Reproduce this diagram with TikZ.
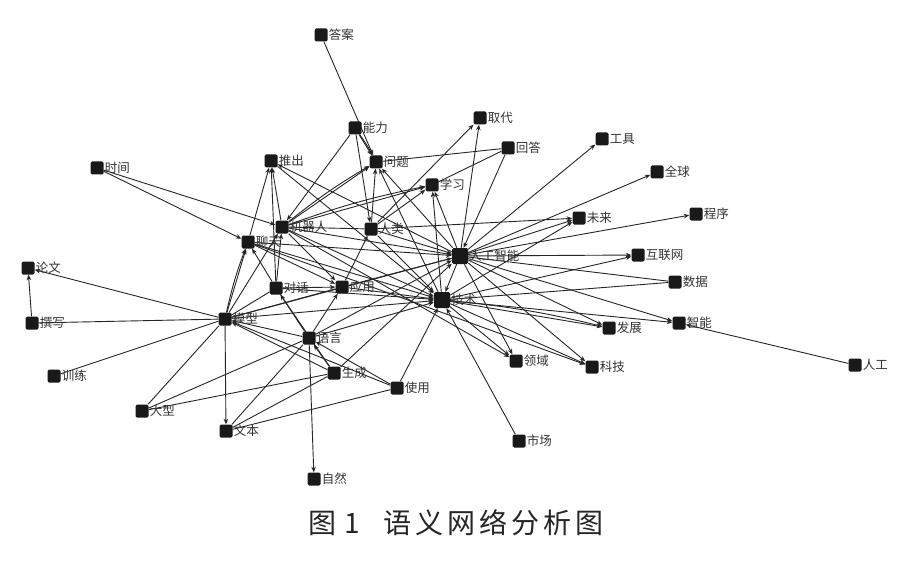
\documentclass[tikz,border=0pt]{standalone}
\usepackage{fontspec}
\setmainfont{Noto Sans CJK SC}
\newfontfamily\capfont[LetterSpace=14]{Noto Sans CJK SC}
\usetikzlibrary{arrows.meta,backgrounds}
\tikzset{
  sq/.style={draw=none,fill=black!90,minimum size=13pt,inner sep=0pt,rounded corners=1.5pt},
  hub/.style={minimum size=16pt},
  lab/.style={anchor=west,inner sep=1pt,font=\fontsize{12.5pt}{13pt}\selectfont,text=black!80},
  edge/.style={draw=black!85,line width=0.9pt},
  ar/.style={edge,-{Stealth[length=5.5pt,width=4.5pt]}},
}
\newcommand\netnode[5][]{\node[sq,#1] (#2) at (#3,#4) {}; \node[lab] (#2-l) at (#2.east) {#5};}
\begin{document}
\begin{tikzpicture}[x=1pt,y=-1pt]
\useasboundingbox (0,0) rectangle (900,567);
\netnode{daan}{321}{35}{答案}
\netnode{nengli}{355}{128}{能力}
\netnode{wenti}{376}{162}{问题}
\netnode{tuichu}{271}{161}{推出}
\netnode{shijian}{97}{168}{时间}
\netnode{qudai}{480}{118}{取代}
\netnode{huida}{508}{148}{回答}
\netnode{gongju}{602}{139}{工具}
\netnode{quanqiu}{657}{172}{全球}
\netnode{xuexi}{432}{185}{学习}
\netnode{chengxu}{696}{214}{程序}
\netnode{weilai}{579}{218}{未来}
\netnode{jqr}{282}{227}{机器人}
\netnode{renlei}{371}{229}{人类}
\netnode{liaotian}{248}{242}{聊天}
\netnode[hub]{rgzn}{460}{256}{人工智能}
\netnode{hlw}{638}{255}{互联网}
\netnode{lunwen}{28}{268}{论文}
\netnode{shuju}{675}{282}{数据}
\netnode{duihua}{276}{288}{对话}
\netnode{yingyong}{342}{287}{应用}
\netnode[hub]{jishu}{442}{300}{技术}
\netnode{zhuanxie}{32}{323}{撰写}
\netnode{moxing}{225}{319}{模型}
\netnode{fazhan}{609}{328}{发展}
\netnode{zhineng}{679}{323}{智能}
\netnode{yuyan}{309}{338}{语言}
\netnode{lingyu}{516}{361}{领域}
\netnode{keji}{592}{367}{科技}
\netnode{rengong}{855}{365}{人工}
\netnode{xunlian}{54}{376}{训练}
\netnode{shengcheng}{334}{373}{生成}
\netnode{shiyong}{397}{388}{使用}
\netnode{daxing}{142}{411}{大型}
\netnode{wenben}{226}{431}{文本}
\netnode{shichang}{519}{441}{市场}
\netnode{ziran}{314}{479}{自然}
\node[font=\fontsize{28pt}{30pt}\selectfont\capfont,text=black!85] (cap) at (456,523) {图\hspace{8pt}1\hspace{24pt}语义网络分析图};
\begin{pgfonlayer}{background}
\fill[white] (0,0) rectangle (900,567);
\foreach \a/\b in {daan/wenti,nengli/wenti,nengli/renlei,nengli/jqr,shijian/jqr,shijian/liaotian,
  zhuanxie/lunwen,moxing/lunwen,moxing/liaotian,moxing/jqr,moxing/wenben,
  liaotian/tuichu,jqr/tuichu,duihua/tuichu,rgzn/tuichu,
  renlei/wenti,rgzn/wenti,jishu/wenti,jqr/wenti,jqr/xuexi,renlei/xuexi,rgzn/xuexi,jishu/xuexi,
  renlei/qudai,rgzn/qudai,huida/rgzn,rgzn/gongju,rgzn/quanqiu,rgzn/chengxu,rgzn/weilai,renlei/weilai,jishu/weilai,
  rgzn/hlw,jishu/hlw,rgzn/zhineng,jishu/zhineng,jishu/fazhan,rgzn/fazhan,rgzn/lingyu,jishu/lingyu,jqr/lingyu,
  rgzn/keji,jishu/keji,shichang/jishu,shiyong/jishu,rgzn/jishu,
  jqr/rgzn,renlei/rgzn,liaotian/rgzn,yingyong/rgzn,yuyan/rgzn,shengcheng/rgzn,
  liaotian/jishu,jqr/jishu,renlei/jishu,duihua/jishu,yingyong/jishu,yuyan/jishu,moxing/jishu,tuichu/jishu,
  duihua/liaotian,duihua/jqr,duihua/yingyong,yuyan/yingyong,yuyan/duihua,yuyan/ziran,yuyan/moxing,
  shengcheng/yuyan,shengcheng/moxing,shiyong/moxing,shiyong/yuyan,yingyong/renlei,liaotian/yingyong,jqr/yingyong,
  rengong/zhineng,liaotian/keji}
  \draw[ar] (\a) -- (\b);
\foreach \a/\b in {nengli/wenti,moxing/liaotian,jqr/wenti,jqr/xuexi,jishu/fazhan}
  \draw[ar] (\a) to[bend left=4] (\b);
\foreach \a/\b in {zhuanxie/moxing,xunlian/moxing,daxing/moxing,daxing/shengcheng,daxing/yuyan,
  wenben/shengcheng,wenben/yuyan,wenben/shiyong,wenti/huida,xuexi/huida,shuju/rgzn,shuju/jishu,
  moxing/duihua,moxing/yingyong,moxing/rgzn,jqr/renlei,shengcheng/duihua}
  \draw[edge] (\a) -- (\b);
\end{pgfonlayer}
\end{tikzpicture}
\end{document}
